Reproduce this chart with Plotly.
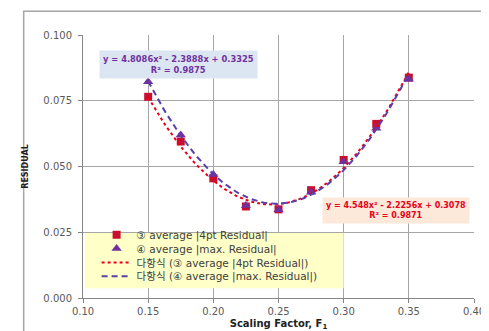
import numpy as np
import plotly.graph_objects as go

# ---- data ----
scaling_factor = [0.15, 0.175, 0.20, 0.225, 0.25, 0.275, 0.30, 0.325, 0.35]
avg_4pt_residual = [0.0765, 0.0595, 0.0455, 0.0348, 0.0337, 0.0410, 0.0525, 0.0662, 0.0838]
avg_max_residual = [0.0822, 0.0620, 0.0470, 0.0352, 0.0336, 0.0402, 0.0518, 0.0645, 0.0832]

# trendline coefficients shown on the chart (a, b, c for a*x^2 + b*x + c)
fit_4pt = [4.548, -2.2256, 0.3078]
fit_max = [4.8086, -2.3888, 0.3325]
r2_4pt = 0.9871
r2_max = 0.9875

x_ticks = [0.10, 0.15, 0.20, 0.25, 0.30, 0.35, 0.40]
y_ticks = [0.000, 0.025, 0.050, 0.075, 0.100]

series_names = [
    "③ average |4pt Residual|",
    "④ average |max. Residual|",
    "다항식 (③ average |4pt Residual|)",
    "다항식 (④ average |max. Residual|)",
]

FONT = "DejaVu Sans, Noto Sans CJK KR, sans-serif"
RED = "#E8001C"
SQ = "#C8102E"
PURPLE = "#7030A0"

xs = np.linspace(min(scaling_factor), max(scaling_factor), 120)
y_fit_4pt = np.polyval(fit_4pt, xs)
y_fit_max = np.polyval(fit_max, xs)

fig = go.Figure()
fig.add_trace(go.Scatter(
    x=scaling_factor, y=avg_4pt_residual, mode="markers",
    marker=dict(symbol="square", size=8, color=SQ),
    name=series_names[0], legend="legend", showlegend=True))
fig.add_trace(go.Scatter(
    x=scaling_factor, y=avg_max_residual, mode="markers",
    marker=dict(symbol="triangle-up", size=9, color=PURPLE),
    name=series_names[1], legend="legend2", showlegend=True))
fig.add_trace(go.Scatter(
    x=xs, y=y_fit_4pt, mode="lines",
    line=dict(color=RED, width=2, dash="dot"),
    name=series_names[2], legend="legend3", showlegend=True))
fig.add_trace(go.Scatter(
    x=xs, y=y_fit_max, mode="lines",
    line=dict(color="#5B3FA8", width=2, dash="6px,4px"),
    name=series_names[3], legend="legend4", showlegend=True))

axis_common = dict(
    showgrid=True, gridcolor="#A6A6A6", gridwidth=1,
    showline=True, linecolor="#868686", linewidth=1,
    ticks="outside", ticklen=4, tickcolor="#868686",
    tickfont=dict(family=FONT, size=10, color="#595959"),
    zeroline=False,
)

fig.update_xaxes(range=[0.10, 0.40], tickvals=x_ticks,
                 ticktext=[f"{v:.2f}" for v in x_ticks],
                 title=dict(text="<b>Scaling Factor, F<sub>1</sub></b>",
                            font=dict(family=FONT, size=10, color="#222222"),
                            standoff=3),
                 **axis_common)
fig.update_yaxes(range=[0.0, 0.100], tickvals=y_ticks,
                 ticktext=[f"{v:.3f}" for v in y_ticks],
                 ticklabelstandoff=4,
                 title=dict(text="<b>RESIDUAL</b>",
                            font=dict(family=FONT, size=8, color="#222222"),
                            standoff=13),
                 **axis_common)

# chart frame and legend background
fig.add_shape(type="rect", xref="paper", yref="paper",
              x0=-0.1517, x1=1.05, y0=-0.139, y1=1.090,
              line=dict(color="#A6A6A6", width=1.5), fillcolor="rgba(0,0,0,0)",
              layer="below")
fig.add_shape(type="rect", xref="x", yref="y",
              x0=0.1015, x1=0.30, y0=0.0037, y1=0.0247,
              line=dict(width=0), fillcolor="#FFFFC8", layer="above")

fig.add_annotation(xref="x", yref="y", x=0.1735, y=0.0887,
                   text=f"<b>y = {fit_max[0]}x² - {abs(fit_max[1])}x + {fit_max[2]}<br>R² = {r2_max}</b>",
                   showarrow=False, align="center",
                   font=dict(family=FONT, size=8.3, color=PURPLE),
                   bgcolor="#DCE6F2", borderpad=3)
fig.add_annotation(xref="x", yref="y", x=0.340, y=0.0331,
                   text=f"<b>y = {fit_4pt[0]}x² - {abs(fit_4pt[1])}x + {fit_4pt[2]}<br>R² = {r2_4pt}</b>",
                   showarrow=False, align="center",
                   font=dict(family=FONT, size=8, color=RED),
                   bgcolor="#FDE9D9", borderpad=3)

row_px = [229, 243, 257, 271]
leg_common = dict(x=0.0348, xanchor="left", yanchor="middle",
                  bgcolor="rgba(0,0,0,0)", borderwidth=0,
                  font=dict(family=FONT, size=10.5, color="#404040"),
                  itemwidth=30, visible=True)
legends = {}
for i, key in enumerate(["legend", "legend2", "legend3", "legend4"]):
    legends[key] = dict(y=(293 - row_px[i]) / 266, **leg_common)

fig.update_layout(
    width=489, height=331,
    margin=dict(l=75, r=12, t=27, b=38),
    paper_bgcolor="white", plot_bgcolor="white",
    font=dict(family=FONT, size=10, color="#404040"),
    showlegend=True,
    **legends,
)

fig.write_html("out.html")
